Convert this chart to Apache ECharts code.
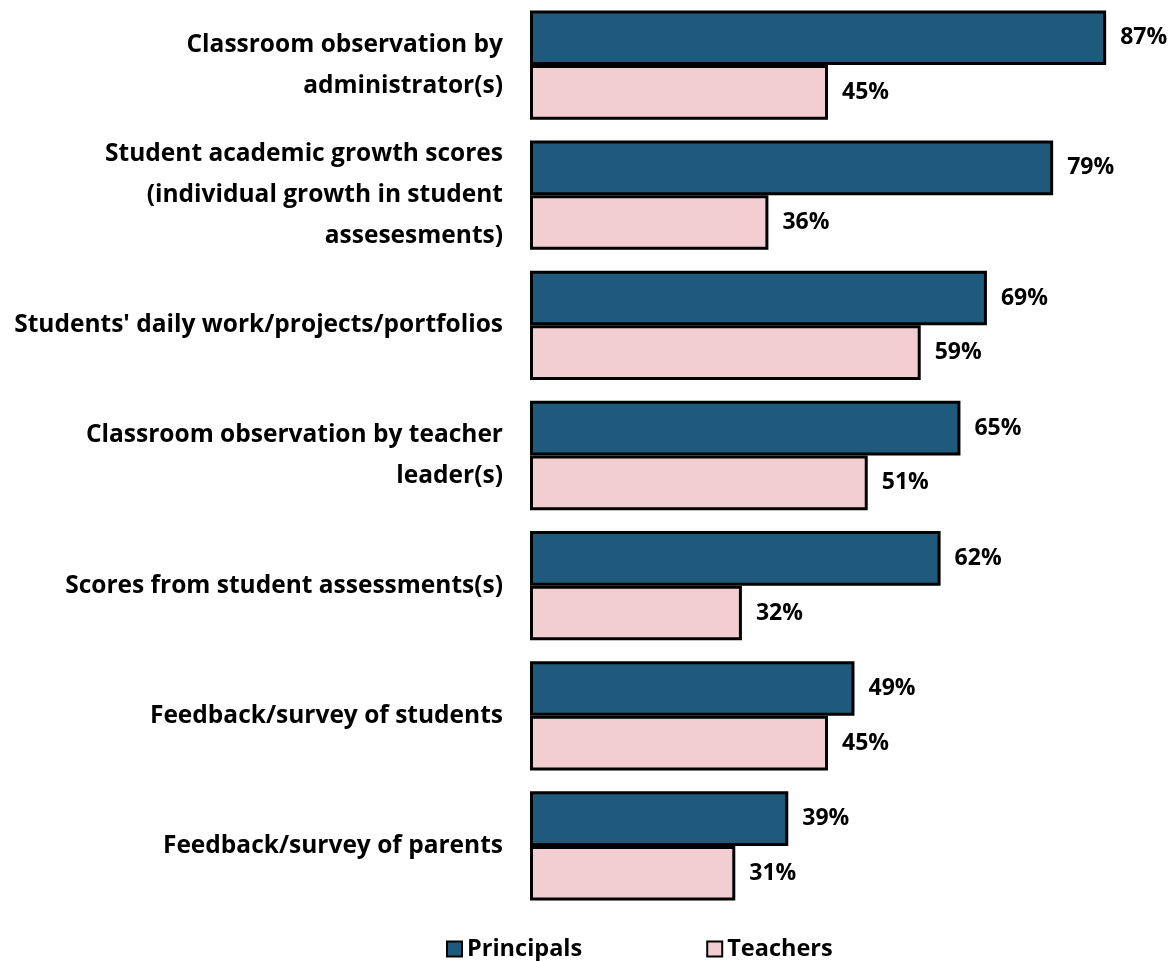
<!DOCTYPE html>
<html>
<head>
<meta charset="utf-8">
<script src="https://cdn.jsdelivr.net/npm/echarts@6/dist/echarts.min.js"></script>
<style>
  html, body { margin: 0; padding: 0; background: #fff; }
  #main { width: 1175px; height: 961px; }
</style>
</head>
<body>
<div id="main"></div>
<script>
// categories (top to bottom)
var categories = [
	'Classroom observation by\nadministrator(s)',
	'Student academic growth scores\n(individual growth in student\nassesesments)',
	"Students' daily work/projects/portfolios",
	'Classroom observation by teacher\nleader(s)',
	'Scores from student assessments(s)',
	'Feedback/survey of students',
	'Feedback/survey of parents'
];
var principals = [87, 79, 69, 65, 62, 49, 39];
var teachers = [45, 36, 59, 51, 32, 45, 31];

var fontName = '"Open Sans", "DejaVu Sans", sans-serif';

var myChart = echarts.init(document.getElementById('main'));

var option = {
	animation: false,
	textStyle: { fontFamily: fontName },
	grid: { left: 530, right: 49, top: 0, bottom: 50 },
	legend: {
		left: 441, top: 932,
		icon: 'rect',
		itemWidth: 15, itemHeight: 15, itemGap: 124,
		textStyle: { fontSize: 23.5, fontWeight: 'bold', color: '#000', fontFamily: fontName },
		data: ['Principals', 'Teachers']
	},
	xAxis: {
		type: 'value', min: 0, max: 90,
		show: false
	},
	yAxis: {
		type: 'category',
		inverse: true,
		data: categories,
		axisLine: { show: false },
		axisTick: { show: false },
		axisLabel: {
			margin: 27,
			fontSize: 24.5, fontWeight: 'bold', color: '#000',
			lineHeight: 41, align: 'right', fontFamily: fontName,
			padding: [6, 0, 0, 0]
		}
	},
	series: [
		{
			name: 'Principals', type: 'bar',
			data: principals,
			barGap: '0%', barCategoryGap: '16%',
			itemStyle: { color: '#1F5A7C', borderColor: '#000', borderWidth: 3 },
			label: {
				show: true, position: 'right', distance: 14,
				formatter: '{c}%', fontSize: 23, fontWeight: 'bold', color: '#000', fontFamily: fontName
			}
		},
		{
			name: 'Teachers', type: 'bar',
			data: teachers,
			itemStyle: { color: '#F2CED2', borderColor: '#000', borderWidth: 3 },
			label: {
				show: true, position: 'right', distance: 14,
				formatter: '{c}%', fontSize: 23, fontWeight: 'bold', color: '#000', fontFamily: fontName
			}
		}
	]
};

myChart.setOption(option);
</script>
</body>
</html>
